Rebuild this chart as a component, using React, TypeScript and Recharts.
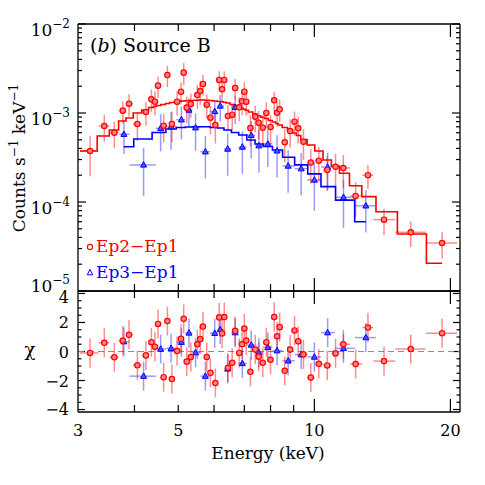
import React from 'react'
import {
  ComposedChart,
  Scatter,
  Line,
  XAxis,
  YAxis,
  ErrorBar,
  ReferenceLine,
} from 'recharts'

const FONT = '"DejaVu Serif", "Liberation Serif", serif'
const RED = '#ff0000'
const BLUE = '#0000ff'

// Ep2-Ep1 (red): bin energies (keV), bin edges, counts s^-1 keV^-1, fractional errors, model, chi
const redE = [3.19, 3.43, 3.61, 3.77, 3.89, 4.06, 4.24, 4.36, 4.44, 4.51, 4.64, 4.73, 4.84, 4.97, 5.07, 5.14, 5.22, 5.33, 5.51, 5.59, 5.67, 5.78, 5.89, 6.04, 6.16, 6.25, 6.32, 6.44, 6.58, 6.68, 6.82, 6.92, 7.0, 7.07, 7.22, 7.4, 7.53, 7.69, 7.83, 8.0, 8.15, 8.27, 8.38, 8.6, 8.84, 9.04, 9.21, 9.46, 9.82, 10.23, 10.68, 11.14, 11.59, 12.34, 13.14, 14.26, 16.34, 19.17]
const redEdges = [3.03, 3.33, 3.52, 3.69, 3.83, 3.97, 4.15, 4.3, 4.4, 4.48, 4.58, 4.69, 4.79, 4.91, 5.02, 5.11, 5.18, 5.28, 5.42, 5.55, 5.63, 5.73, 5.84, 5.97, 6.1, 6.21, 6.29, 6.38, 6.51, 6.63, 6.75, 6.87, 6.96, 7.04, 7.15, 7.31, 7.47, 7.61, 7.76, 7.92, 8.08, 8.21, 8.33, 8.49, 8.72, 8.94, 9.13, 9.34, 9.64, 10.02, 10.45, 10.91, 11.36, 12.0, 12.77, 13.5, 15.1, 17.64, 20.7]
const redCounts = [3.74e-4, 7.14e-4, 6.01e-4, 1.062e-3, 1.272e-3, 7.52e-4, 1.026e-3, 1.426e-3, 1.34e-3, 2.03e-3, 7.2e-4, 2.67e-3, 7.52e-4, 1.34e-3, 1.735e-3, 2.84e-3, 1.148e-3, 1.262e-3, 1.592e-3, 1.767e-3, 2.12e-3, 1.24e-3, 8.86e-4, 7.33e-4, 2.35e-3, 1.846e-3, 2.35e-3, 9.25e-4, 9.57e-4, 1.91e-3, 1.159e-3, 1.353e-3, 1.735e-3, 1.34e-3, 6.78e-4, 9.08e-4, 7.78e-4, 6.84e-4, 1.0e-3, 6.97e-4, 1.39e-3, 1.007e-3, 1.101e-3, 4.69e-4, 6.28e-4, 7.98e-4, 6.73e-4, 4.76e-4, 2.77e-4, 2.91e-4, 2.29e-4, 2.49e-4, 2.41e-4, 1.17e-4, 2.0e-4, 6.33e-5, 4.57e-5, 3.46e-5]
const redRelErr = [0.48, 0.33, 0.33, 0.28, 0.28, 0.35, 0.3, 0.28, 0.3, 0.27, 0.35, 0.27, 0.38, 0.3, 0.28, 0.28, 0.33, 0.3, 0.3, 0.3, 0.26, 0.3, 0.35, 0.38, 0.25, 0.27, 0.25, 0.33, 0.33, 0.26, 0.3, 0.3, 0.28, 0.3, 0.38, 0.33, 0.35, 0.38, 0.32, 0.36, 0.25, 0.3, 0.28, 0.4, 0.35, 0.3, 0.33, 0.38, 0.42, 0.42, 0.42, 0.4, 0.4, 0.42, 0.3, 0.33, 0.32, 0.33]
const redModel = [3.74e-4, 5.52e-4, 6.44e-4, 8.13e-4, 8.79e-4, 1.0e-3, 1.081e-3, 1.153e-3, 1.184e-3, 1.215e-3, 1.246e-3, 1.279e-3, 1.312e-3, 1.34e-3, 1.358e-3, 1.364e-3, 1.371e-3, 1.381e-3, 1.393e-3, 1.4e-3, 1.4e-3, 1.393e-3, 1.381e-3, 1.364e-3, 1.347e-3, 1.336e-3, 1.322e-3, 1.295e-3, 1.246e-3, 1.215e-3, 1.167e-3, 1.13e-3, 1.101e-3, 1.072e-3, 1.026e-3, 9.75e-4, 9.33e-4, 8.95e-4, 8.68e-4, 8.24e-4, 7.93e-4, 7.62e-4, 7.33e-4, 6.87e-4, 6.44e-4, 5.96e-4, 5.59e-4, 5.04e-4, 4.37e-4, 3.74e-4, 2.96e-4, 2.54e-4, 2.1e-4, 1.52e-4, 1.15e-4, 7.78e-5, 4.37e-5, 2.05e-5]
const redChi = [-0.1, 0.6, -0.4, 0.75, 1.15, -0.95, -0.27, 0.64, 0.33, 1.9, -1.77, 2.1, -1.9, 0.03, 0.87, 2.25, -0.7, -0.38, 0.5, 0.85, 1.72, -0.38, -1.47, -2.17, 2.35, 1.24, 2.37, -1.12, -0.78, 1.42, -0.1, 0.5, 1.58, 0.75, -1.4, 0.13, -0.36, -0.78, 0.64, -0.57, 2.37, 1.05, 1.68, -1.33, 0.13, 1.45, 0.7, -0.2, -1.8, -0.85, -0.96, -0.13, 0.5, -0.87, 1.65, -0.66, 0.17, 1.26]

// Ep3-Ep1 (blue)
const blueE = [3.79, 4.19, 4.57, 4.82, 5.08, 5.28, 5.46, 5.74, 6.02, 6.19, 6.43, 6.68, 6.93, 7.25, 7.54, 7.89, 8.27, 8.75, 9.35, 10.0, 10.7, 11.6, 13.0]
const blueEdges = [3.7, 3.9, 4.46, 4.7, 4.95, 5.18, 5.37, 5.6, 5.88, 6.1, 6.31, 6.55, 6.8, 7.08, 7.4, 7.7, 8.08, 8.5, 9.05, 9.65, 10.35, 11.1, 12.29, 13.7]
const blueCounts = [5.77e-4, 2.61e-4, 6.73e-4, 7.02e-4, 8.41e-4, 1.08e-3, 6.84e-4, 3.67e-4, 1.04e-3, 1.2e-3, 3.94e-4, 1.16e-3, 4.15e-4, 5.61e-4, 4.3e-4, 4.49e-4, 3.76e-4, 2.54e-4, 2.37e-4, 1.77e-4, 2.47e-4, 1.13e-4, 9.06e-5]
const blueRelErr = [0.4, 0.55, 0.45, 0.45, 0.4, 0.35, 0.45, 0.5, 0.35, 0.33, 0.5, 0.35, 0.5, 0.45, 0.5, 0.45, 0.5, 0.5, 0.5, 0.55, 0.45, 0.55, 0.5]
const blueModel = [4.18e-4, 5.1e-4, 6.04e-4, 6.61e-4, 6.87e-4, 6.97e-4, 7.02e-4, 7.02e-4, 6.87e-4, 6.78e-4, 6.44e-4, 6.04e-4, 5.66e-4, 4.97e-4, 4.49e-4, 4.21e-4, 3.84e-4, 3.18e-4, 2.61e-4, 2.07e-4, 1.49e-4, 1.05e-4, 6.01e-5]
const blueChi = [0.68, -1.7, 0.17, 0.22, 0.64, 1.28, -0.08, -1.7, 1.26, 1.51, -1.2, 1.3, -0.82, 0.45, -0.08, 0.29, 0.06, -0.64, -0.22, -0.38, 1.3, 0.22, 0.96]

// axes
const X_DOMAIN = [3, 21]
const Y_DOMAIN = [1e-5, 1e-2]
const CHI_DOMAIN = [-4.17, 4.17]
const xMinorTicks = [4, 5, 6, 7, 8, 9]
const xMajorTicks = [10, 20]
const xLabelTicks = [3, 5, 10, 20]
const yMajorTicks = [1e-5, 1e-4, 1e-3, 1e-2]
const yMinorTicks = [2e-5, 3e-5, 4e-5, 5e-5, 6e-5, 7e-5, 8e-5, 9e-5, 2e-4, 3e-4, 4e-4, 5e-4, 6e-4, 7e-4, 8e-4, 9e-4, 2e-3, 3e-3, 4e-3, 5e-3, 6e-3, 7e-3, 8e-3, 9e-3]
const chiMajorTicks = [-4, -2, 0, 2, 4]
const chiMinorTicks = [-3.5, -3, -2.5, -1.5, -1, -0.5, 0.5, 1, 1.5, 2.5, 3, 3.5]

const redSpec = redE.map((E, i) => ({
  E,
  v: redCounts[i],
  xe: [E - redEdges[i], redEdges[i + 1] - E],
  ye: redCounts[i] * redRelErr[i],
}))
const redRes = redE.map((E, i) => ({ E, v: redChi[i], xe: [E - redEdges[i], redEdges[i + 1] - E], ye: 1 }))
const redFit = [{ E: redEdges[0], m: redModel[0] }, ...redE.map((E, i) => ({ E, m: redModel[i] }))]

const blueSpec = blueE.map((E, i) => ({
  E,
  v: blueCounts[i],
  xe: [E - blueEdges[i], blueEdges[i + 1] - E],
  ye: blueCounts[i] * blueRelErr[i],
}))
const blueRes = blueE.map((E, i) => ({ E, v: blueChi[i], xe: [E - blueEdges[i], blueEdges[i + 1] - E], ye: 1 }))
const blueFit = blueE.map((E, i) => ({ E, m: blueModel[i] }))

const frame = { stroke: '#000', strokeWidth: 1.3 }
const minus = (v: number) => (v < 0 ? `\u2212${-v}` : `${v}`)

// inward tick marks as short reference segments (tick length given in axis units)
const seg = (k: string, x1: number, y1: number, x2: number, y2: number) => (
  <ReferenceLine key={k} xAxisId="b" yAxisId="l" segment={[{ x: x1, y: y1 }, { x: x2, y: y2 }]}
    stroke="#000" strokeWidth={1.2} ifOverflow="visible" />
)

// x ticks: log-y panel uses factors, chi panel uses offsets; y ticks use factors along log x
function xTickSegs(yLo: number, yHi: number, log: boolean, minorLen: number, majorLen: number) {
  const out: any[] = []
  const add = (E: number, len: number, k: string) => {
    out.push(seg('t' + k, E, yHi, E, log ? yHi / len : yHi - len))
    out.push(seg('b' + k, E, yLo, E, log ? yLo * len : yLo + len))
  }
  xMinorTicks.forEach((E) => add(E, minorLen, 'm' + E))
  xMajorTicks.forEach((E) => add(E, majorLen, 'M' + E))
  return out
}

function yTickSegs(major: number[], minor: number[], minorF: number, majorF: number) {
  const out: any[] = []
  const add = (v: number, f: number, k: string) => {
    out.push(seg('l' + k, X_DOMAIN[0], v, X_DOMAIN[0] * f, v))
    out.push(seg('r' + k, X_DOMAIN[1], v, X_DOMAIN[1] / f, v))
  }
  minor.forEach((v) => add(v, minorF, 'm' + v))
  major.forEach((v) => add(v, majorF, 'M' + v))
  return out
}

// axis labels
const powLabel = (p: any) => {
  const v = Number(p.payload.value)
  const exp = Math.round(Math.log10(v))
  return (
    <text x={p.x - 8} y={p.y + (exp === -5 ? 1 : 12)} textAnchor="end" fontFamily={FONT} fontSize={17} fill="#000">
      10
      <tspan dy={-8} fontSize={12}>{minus(exp)}</tspan>
    </text>
  )
}

const chiLabel = (p: any) => {
  const v = Number(p.payload.value)
  const shift = v >= 4 ? 4 : v <= -4 ? -1 : 0
  return (
    <text x={p.x - 9} y={p.y + shift + 6} textAnchor="end" fontFamily={FONT} fontSize={16} fill="#000">
      {minus(v)}
    </text>
  )
}

const energyLabel = (p: any) => (
  <text x={p.x} y={p.y + 24} textAnchor="middle" fontFamily={FONT} fontSize={16} fill="#000">
    {p.payload.value}
  </text>
)

const noLabel = () => <g />

const redDot = (p: any) => (
  <circle cx={p.cx} cy={p.cy} r={2.7} fill="#ff8080" stroke={RED} strokeWidth={1.2} />
)
const blueDot = (p: any) => (
  <polygon
    points={`${p.cx},${p.cy - 3.3} ${p.cx - 3},${p.cy + 2.2} ${p.cx + 3},${p.cy + 2.2}`}
    fill="#5050ff"
    stroke={BLUE}
    strokeWidth={1}
  />
)

function frameAxes(yDomain: number[], yScale: 'log' | 'linear', yMajor: number[], yLabel: any, xLabel?: any) {
  const common = { mirror: true, type: 'number' as const, allowDataOverflow: true, interval: 0,
    tickSize: 0, tickMargin: 0, tickLine: false, axisLine: frame }
  return [
    <XAxis key="b" xAxisId="b" orientation="bottom" dataKey="E" scale="log" domain={X_DOMAIN} height={1}
      ticks={xLabel ? xLabelTicks : xMajorTicks} tick={xLabel || noLabel} {...common} />,
    <XAxis key="t" xAxisId="t" orientation="top" dataKey="E" scale="log" domain={X_DOMAIN} height={1}
      ticks={xMajorTicks} tick={noLabel} {...common} />,
    <YAxis key="l" yAxisId="l" orientation="left" scale={yScale} domain={yDomain} width={1}
      ticks={yMajor} tick={yLabel} {...common} />,
    <YAxis key="r" yAxisId="r" orientation="right" scale={yScale} domain={yDomain} width={1}
      ticks={yMajor} tick={noLabel} {...common} />,
  ]
}

const redBar = { stroke: 'rgba(255,0,0,0.45)', strokeWidth: 1.5 }
const blueBar = { stroke: 'rgba(0,0,255,0.4)', strokeWidth: 1.5 }

export default function App() {
  return (
    <div style={{ position: 'absolute', left: 0, top: 0, width: 485, height: 485, background: '#fff' }}>
      <div style={{ position: 'absolute', left: 0, top: 0 }}>
        <ComposedChart width={485} height={301} margin={{ top: 24, right: 25, bottom: 10, left: 78 }}>
          {frameAxes(Y_DOMAIN, 'log', yMajorTicks, powLabel)}
          {xTickSegs(Y_DOMAIN[0], Y_DOMAIN[1], true, 1.198, 1.4)}
          {yTickSegs(yMajorTicks, yMinorTicks, 1.0206, 1.0417)}
          <Scatter xAxisId="b" yAxisId="l" data={blueSpec} dataKey="v" shape={blueDot} isAnimationActive={false}>
            <ErrorBar dataKey="xe" direction="x" width={0} {...blueBar} isAnimationActive={false} />
            <ErrorBar dataKey="ye" direction="y" width={0} {...blueBar} isAnimationActive={false} />
          </Scatter>
          <Scatter xAxisId="b" yAxisId="l" data={redSpec} dataKey="v" shape={redDot} isAnimationActive={false}>
            <ErrorBar dataKey="xe" direction="x" width={0} {...redBar} isAnimationActive={false} />
            <ErrorBar dataKey="ye" direction="y" width={0} {...redBar} isAnimationActive={false} />
          </Scatter>
          <Line xAxisId="b" yAxisId="l" data={blueFit} dataKey="m" type="step" stroke={BLUE}
            strokeWidth={1.6} dot={false} isAnimationActive={false} />
          <Line xAxisId="b" yAxisId="l" data={redFit} dataKey="m" type="step" stroke={RED}
            strokeWidth={1.6} dot={false} isAnimationActive={false} />
        </ComposedChart>
      </div>
      <div style={{ position: 'absolute', left: 0, top: 281 }}>
        <ComposedChart width={485} height={201} margin={{ top: 10, right: 25, bottom: 70, left: 78 }}>
          {frameAxes(CHI_DOMAIN, 'linear', chiMajorTicks, chiLabel, energyLabel)}
          {xTickSegs(CHI_DOMAIN[0], CHI_DOMAIN[1], false, 0.483, 0.897)}
          {yTickSegs(chiMajorTicks, chiMinorTicks, 1.018, 1.0364)}
          <ReferenceLine xAxisId="b" yAxisId="l" y={0} stroke="#8c8c8c" strokeDasharray="6 4" strokeWidth={1.2} />
          <Scatter xAxisId="b" yAxisId="l" data={blueRes} dataKey="v" shape={blueDot} isAnimationActive={false}>
            <ErrorBar dataKey="xe" direction="x" width={0} {...blueBar} isAnimationActive={false} />
            <ErrorBar dataKey="ye" direction="y" width={0} {...blueBar} isAnimationActive={false} />
          </Scatter>
          <Scatter xAxisId="b" yAxisId="l" data={redRes} dataKey="v" shape={redDot} isAnimationActive={false}>
            <ErrorBar dataKey="xe" direction="x" width={0} {...redBar} isAnimationActive={false} />
            <ErrorBar dataKey="ye" direction="y" width={0} {...redBar} isAnimationActive={false} />
          </Scatter>
        </ComposedChart>
      </div>
      <svg width={485} height={485} style={{ position: 'absolute', left: 0, top: 0, pointerEvents: 'none' }}
        fontFamily={FONT}>
        <text x={90} y={52} fontSize={19} fill="#000">
          (<tspan fontStyle="italic">b</tspan>) Source B
        </text>
        <circle cx={90} cy={247} r={2.6} fill="none" stroke={RED} strokeWidth={1.1} />
        <text x={96} y={252} fontSize={17} fill={RED}>Ep2{'\u2212'}Ep1</text>
        <polygon points="90,269.5 87.2,274.8 92.8,274.8" fill="none" stroke={BLUE} strokeWidth={1} />
        <text x={96} y={278} fontSize={17} fill={BLUE}>Ep3{'\u2212'}Ep1</text>
        <text transform="translate(25,158) rotate(-90)" textAnchor="middle" fontSize={17} fill="#000">
          Counts s<tspan dy={-7} fontSize={12}>{'\u2212'}1</tspan>
          <tspan dy={7}> keV</tspan>
          <tspan dy={-7} fontSize={12}>{'\u2212'}1</tspan>
        </text>
        <text x={30} y={356} textAnchor="middle" fontSize={18} fill="#000">{'\u03c7'}</text>
        <text x={268} y={459} textAnchor="middle" fontSize={17} fill="#000">Energy (keV)</text>
      </svg>
    </div>
  )
}
